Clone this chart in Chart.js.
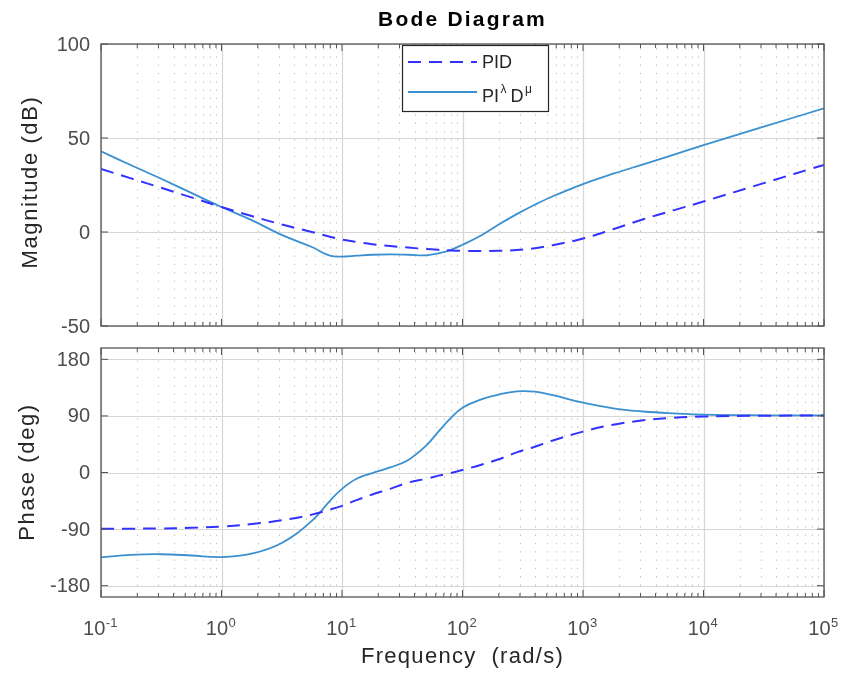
<!DOCTYPE html>
<html>
<head>
<meta charset="utf-8">
<title>Bode Diagram</title>
<script src="https://cdn.jsdelivr.net/npm/chart.js@4.4.1/dist/chart.umd.min.js"></script>
<style>
  html, body { margin: 0; padding: 0; background: #fff; }
  #wrap { position: relative; width: 845px; height: 678px; overflow: hidden; }
  canvas { position: absolute; left: 0; }
  #magCanvas { top: 0; }
  #phaseCanvas { top: 340px; }
</style>
</head>
<body>
<div id="wrap">
  <canvas id="magCanvas" width="845" height="340"></canvas>
  <canvas id="phaseCanvas" width="845" height="338"></canvas>
</div>
<script>
// =========================
// DATA
// =========================
const freq = [0.1, 0.178, 0.316, 0.562, 1, 1.78, 3.16, 5.62, 7.94, 10,
              13.2, 17.8, 25.1, 35.5, 50.1, 63.1, 79.4, 100, 141, 200,
              282, 398, 562, 1000, 1778, 3162, 5623, 10000, 31623, 100000];

const pidMag = [33.5, 28.5, 23.5, 18.4, 13.3, 8.5, 4.0, 0.0, -2.5, -4.0,
                -5.3, -6.5, -7.5, -8.3, -9.1, -9.5, -9.8, -10.0, -10.1, -10.0,
                -9.6, -8.6, -7.0, -3.5, 1.5, 6.8, 11.5, 16.2, 26.0, 35.7];

const fracMag = [42.9, 35.5, 28.3, 20.8, 13.3, 6.3, -1.5, -8.0, -12.6, -13.1,
                 -12.6, -12.1, -11.9, -12.1, -12.4, -11.4, -9.6, -6.8, -2.0, 4.0,
                 9.5, 14.5, 19.0, 25.5, 31.0, 36.0, 41.0, 46.2, 56.0, 65.8];

const pidPhase = [-89.5, -89.3, -89, -88, -86, -82, -76, -67, -59, -53,
                  -44, -35, -26, -16, -10, -5, -1, 4, 12, 21,
                  32, 41, 51, 65, 76, 83, 87, 89, 90.3, 90.5];

const fracPhase = [-135, -131, -130, -132, -134.5, -129, -112, -77, -45, -26,
                   -10, -1, 8, 20, 43, 65, 86, 103, 116, 124,
                   129, 128.5, 123, 111, 102, 97, 94, 92, 91, 90.8];

const seriesNames = ["PID", "PIλDμ"];
const decades = [0.1, 1, 10, 100, 1000, 10000, 100000];
const magTicks = [-50, 0, 50, 100];
const phaseTicks = [-180, -90, 0, 90, 180];

// =========================
// STYLE
// =========================
const FONT = "'Liberation Sans', Arial, Helvetica, sans-serif";
const PID_COLOR = "rgb(50, 50, 255)";
const FRAC_COLOR = "#3b90d0";
const PID_DASH = [13, 8];

const toPoints = vals => freq.map((f, i) => ({ x: f, y: vals[i] }));

function setSpacing(ctx, px) {
  if ("letterSpacing" in ctx) ctx.letterSpacing = px + "px";
}

function hLine(ctx, x1, y1, x2, y2) {
  ctx.beginPath();
  ctx.moveTo(x1, y1);
  ctx.lineTo(x2, y2);
  ctx.stroke();
}

// =========================
// MATLAB-LIKE AXES PLUGIN
// grid, box, inward ticks, labels, legend
// =========================
const matlabAxes = {
  id: "matlabAxes",

  beforeDatasetsDraw(chart, args, opts) {
    const { ctx, chartArea: a, scales: { x, y } } = chart;
    ctx.save();

    // minor (dotted) grid on log x
    ctx.strokeStyle = "rgba(0,0,0,0.25)";
    ctx.lineWidth = 1;
    ctx.setLineDash([1.3, 7]);
    decades.slice(0, -1).forEach(d => {
      for (let m = 2; m < 10; m++) {
        const px = Math.round(x.getPixelForValue(m * d)) + 0.5;
        hLine(ctx, px, a.top + 4, px, a.bottom);
      }
    });

    // major grid
    ctx.setLineDash([]);
    ctx.strokeStyle = "#d6d6d6";
    ctx.lineWidth = 1.2;
    decades.forEach(d => {
      const px = Math.round(x.getPixelForValue(d)) + 0.5;
      hLine(ctx, px, a.top, px, a.bottom);
    });
    opts.yTicks.forEach(v => {
      const py = Math.round(y.getPixelForValue(v)) + 0.5;
      hLine(ctx, a.left, py, a.right, py);
    });
    ctx.restore();
  },

  afterDatasetsDraw(chart, args, opts) {
    const { ctx, chartArea: a, scales: { x, y } } = chart;
    ctx.save();

    // box
    ctx.strokeStyle = "#555";
    ctx.lineWidth = 1.3;
    ctx.strokeRect(a.left, a.top, a.right - a.left, a.bottom - a.top);

    // inward ticks on all four sides
    ctx.lineWidth = 1;
    decades.forEach((d, i) => {
      const px = x.getPixelForValue(d);
      hLine(ctx, px, a.bottom, px, a.bottom - 7);
      hLine(ctx, px, a.top, px, a.top + 7);
      if (i === decades.length - 1) return;
      for (let m = 2; m < 10; m++) {
        const mx = x.getPixelForValue(m * d);
        hLine(ctx, mx, a.bottom, mx, a.bottom - 4);
        hLine(ctx, mx, a.top, mx, a.top + 4);
      }
    });
    opts.yTicks.forEach(v => {
      const py = y.getPixelForValue(v);
      hLine(ctx, a.left, py, a.left + 7, py);
      hLine(ctx, a.right, py, a.right - 7, py);
    });

    // y tick labels
    ctx.fillStyle = "#4d4d4d";
    ctx.font = "20px " + FONT;
    ctx.textAlign = "right";
    ctx.textBaseline = "middle";
    opts.yTicks.forEach(v => {
      ctx.fillText(String(v), a.left - 11, y.getPixelForValue(v) + 1);
    });

    // y title
    ctx.save();
    ctx.fillStyle = "#262626";
    ctx.font = "22px " + FONT;
    setSpacing(ctx, 1.6);
    ctx.textAlign = "center";
    ctx.textBaseline = "alphabetic";
    ctx.translate(opts.yTitleX, opts.yTitleY);
    ctx.rotate(-Math.PI / 2);
    ctx.fillText(opts.yTitle, 0, 0);
    ctx.restore();

    // x tick labels 10^n
    if (opts.xLabels) {
      ctx.fillStyle = "#4d4d4d";
      ctx.textAlign = "left";
      ctx.textBaseline = "alphabetic";
      const base = a.bottom + 38;
      decades.forEach(d => {
        const exp = String(Math.round(Math.log10(d)));
        ctx.font = "20px " + FONT;
        const w10 = ctx.measureText("10").width;
        ctx.font = "13px " + FONT;
        const wExp = ctx.measureText(exp).width;
        const start = x.getPixelForValue(d) - (w10 + wExp) / 2 - 1;
        ctx.font = "20px " + FONT;
        ctx.fillText("10", start, base);
        ctx.font = "13px " + FONT;
        ctx.fillText(exp, start + w10 + 0.5, base - 8);
      });

      ctx.fillStyle = "#262626";
      ctx.font = "22px " + FONT;
      setSpacing(ctx, 1.3);
      ctx.textAlign = "center";
      ctx.fillText("Frequency  (rad/s)", (a.left + a.right) / 2, a.bottom + 66);
      setSpacing(ctx, 0);
    }

    // title
    if (opts.title) {
      ctx.fillStyle = "#000";
      ctx.font = "bold 21px " + FONT;
      setSpacing(ctx, 2.2);
      ctx.textAlign = "center";
      ctx.textBaseline = "alphabetic";
      ctx.fillText(opts.title, (a.left + a.right) / 2, 26);
      setSpacing(ctx, 0);
    }

    // legend
    if (opts.legend) {
      const lx = 402, ly = 45, lw = 146, lh = 66;
      ctx.fillStyle = "#fff";
      ctx.fillRect(lx, ly, lw, lh);
      ctx.strokeStyle = "#262626";
      ctx.lineWidth = 1.2;
      ctx.strokeRect(lx + 0.5, ly + 0.5, lw, lh);

      ctx.lineWidth = 2;
      ctx.strokeStyle = PID_COLOR;
      ctx.setLineDash(PID_DASH);
      hLine(ctx, lx + 6, 62, lx + 75, 62);
      ctx.setLineDash([]);
      ctx.lineWidth = 1.8;
      ctx.strokeStyle = FRAC_COLOR;
      hLine(ctx, lx + 6, 92, lx + 75, 92);

      ctx.fillStyle = "#262626";
      ctx.textAlign = "left";
      ctx.textBaseline = "alphabetic";
      ctx.font = "18px " + FONT;
      ctx.fillText(seriesNames[0], lx + 80, 68);

      // PI^lambda D^mu
      let tx = lx + 80;
      ctx.font = "18px " + FONT;
      ctx.fillText("PI", tx, 102);
      tx += ctx.measureText("PI").width + 1.5;
      ctx.font = "12px " + FONT;
      ctx.fillText("λ", tx, 93);
      tx += ctx.measureText("λ").width + 4;
      ctx.font = "18px " + FONT;
      ctx.fillText("D", tx, 102);
      tx += ctx.measureText("D").width + 1.5;
      ctx.font = "12px " + FONT;
      ctx.fillText("μ", tx, 93);
    }
    ctx.restore();
  }
};

// =========================
// CHART BUILDER
// =========================
function bodeChart(canvasId, pidVals, fracVals, yMin, yMax, padding, frameOpts) {
  return new Chart(document.getElementById(canvasId), {
    type: "line",
    data: {
      datasets: [
        {
          label: seriesNames[0],
          data: toPoints(pidVals),
          borderColor: PID_COLOR,
          borderWidth: 2,
          borderDash: PID_DASH,
          pointRadius: 0,
          tension: 0.4
        },
        {
          label: seriesNames[1],
          data: toPoints(fracVals),
          borderColor: FRAC_COLOR,
          borderWidth: 1.8,
          pointRadius: 0,
          tension: 0.4
        }
      ]
    },
    options: {
      responsive: false,
      animation: false,
      devicePixelRatio: 1,
      layout: { padding },
      scales: {
        x: { type: "logarithmic", min: 0.1, max: 100000, display: false },
        y: { type: "linear", min: yMin, max: yMax, display: false }
      },
      plugins: {
        legend: { display: false },
        title: { display: false },
        tooltip: { enabled: false },
        matlabAxes: frameOpts
      }
    },
    plugins: [matlabAxes]
  });
}

bodeChart("magCanvas", pidMag, fracMag, -50, 100,
  { left: 101, right: 21, top: 44, bottom: 14 },
  { yTicks: magTicks, yTitle: "Magnitude (dB)", yTitleX: 37, yTitleY: 182,
    xLabels: false, title: "Bode Diagram", legend: true });

bodeChart("phaseCanvas", pidPhase, fracPhase, -198, 198,
  { left: 101, right: 21, top: 8, bottom: 81 },
  { yTicks: phaseTicks, yTitle: "Phase (deg)", yTitleX: 34, yTitleY: 132,
    xLabels: true, title: "", legend: false });
</script>
</body>
</html>
